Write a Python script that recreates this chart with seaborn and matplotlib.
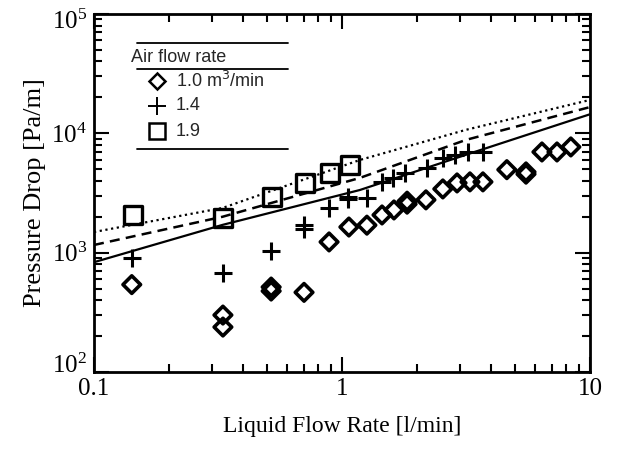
import numpy as np
import pandas as pd
import matplotlib
matplotlib.use("Agg")
import matplotlib.pyplot as plt
import matplotlib.transforms as mtrans
import seaborn as sns

# ---- data ----
q10_x = [0.142, 0.331, 0.331, 0.518, 0.518, 0.703, 0.887, 1.066, 1.26, 1.45, 1.62, 1.83, 1.83,
         2.18, 2.55, 2.91, 3.28, 3.70, 4.62, 5.52, 5.52, 6.40, 7.36, 8.37]
q10_y = [540, 300, 238, 515, 477, 465, 1230, 1640, 1700, 2070, 2280, 2550, 2700,
         2770, 3420, 3840, 3920, 3920, 4960, 4550, 4750, 6980, 6980, 7690]

q14_x = [0.142, 0.331, 0.518, 0.703, 0.703, 0.887, 1.06, 1.06, 1.26, 1.45, 1.61, 1.79,
         2.20, 2.55, 2.86, 3.22, 3.70]
q14_y = [900, 676, 1030, 1580, 1720, 2370, 2820, 2930, 2870, 3920, 4230, 4660,
         5130, 6220, 6600, 6990, 6990]

q19_x = [0.144, 0.331, 0.522, 0.708, 0.894, 1.076]
q19_y = [2070, 1950, 2930, 3840, 4660, 5430]

# model curves (read at several liquid flow rates)
curve_x = [0.1, 0.33, 1.18, 3.16, 10.0]
solid_y = [832, 1710, 3350, 6610, 14450]
dashed_y = [1160, 2000, 4230, 8810, 16600]
dotted_y = [1490, 2370, 5980, 10700, 19050]

legend_title = "Air flow rate"
legend_labels = ["1.0 m$^3$/min", "1.4", "1.9"]

# ---- style ----
sns.set_style("ticks")
plt.rcParams["font.family"] = ["Liberation Serif", "DejaVu Serif"]
plt.rcParams["mathtext.fontset"] = "custom"
plt.rcParams["mathtext.rm"] = "Liberation Serif"
plt.rcParams["mathtext.it"] = "Liberation Serif:italic"

fig = plt.figure(figsize=(6.17, 4.54), dpi=100)
ax = fig.add_axes([94 / 617, 1 - 372 / 454, (590 - 94) / 617, (372 - 14) / 454])

df10 = pd.DataFrame({"x": q10_x, "y": q10_y})
df14 = pd.DataFrame({"x": q14_x, "y": q14_y})
df19 = pd.DataFrame({"x": q19_x, "y": q19_y})
dfc = pd.DataFrame({"x": curve_x, "solid": solid_y, "dashed": dashed_y, "dotted": dotted_y})

sns.lineplot(data=dfc, x="x", y="solid", ax=ax, color="black", lw=1.6, linestyle="-")
sns.lineplot(data=dfc, x="x", y="dashed", ax=ax, color="black", lw=1.8, linestyle=(0, (4, 2.5)))
sns.lineplot(data=dfc, x="x", y="dotted", ax=ax, color="black", lw=1.6, linestyle=(0, (1, 1.6)))

sns.scatterplot(data=df10, x="x", y="y", ax=ax, marker="D", s=80, facecolor="none",
                edgecolor="black", linewidth=2.6, zorder=5)
sns.scatterplot(data=df14, x="x", y="y", ax=ax, marker="+", s=180, color="black",
                linewidth=2.2, zorder=5)
sns.scatterplot(data=df19, x="x", y="y", ax=ax, marker="s", s=170, facecolor="none",
                edgecolor="black", linewidth=2.4, zorder=5)

ax.set_xscale("log")
ax.set_yscale("log")
ax.set_xlim(0.1, 10)
ax.set_ylim(100, 100000)

ax.set_xticks([0.1, 1, 10])
ax.set_xticklabels(["0.1", "1", "10"])
ax.set_yticks([1e2, 1e3, 1e4, 1e5])
ax.set_yticklabels(["$10^{2}$", "$10^{3}$", "$10^{4}$", "$10^{5}$"])

ax.tick_params(which="both", direction="in", top=True, right=True, labelsize=18, width=1.5,
               color="black", labelcolor="black")
ax.tick_params(which="major", length=11, pad=4)
ax.tick_params(which="minor", length=6)
ax.tick_params(axis="y", pad=5)
for sp in ax.spines.values():
    sp.set_linewidth(2.0)
    sp.set_color("black")
    sp.set_visible(True)

# shift the extreme y labels inward, as in the reference
ylabs = ax.get_yticklabels()
ylabs[0].set_transform(ylabs[0].get_transform() + mtrans.ScaledTranslation(0, 9 / 100, fig.dpi_scale_trans))
ylabs[-1].set_transform(ylabs[-1].get_transform() + mtrans.ScaledTranslation(0, -5 / 100, fig.dpi_scale_trans))

ax.set_xlabel("Liquid Flow Rate [l/min]", fontsize=17, labelpad=12, color="black")
ax.set_ylabel("Pressure Drop [Pa/m]", fontsize=19, labelpad=4, color="black")

# ---- custom legend block ----
T = ax.transAxes
def ax_x(px):
    return (px - 94) / (590 - 94)
def ax_y(py):
    return (372 - py) / (372 - 14)

for py in (43, 69, 149):
    ax.plot([ax_x(137), ax_x(288)], [ax_y(py), ax_y(py)], transform=T, color="black", lw=1.3)
ax.text(ax_x(131), ax_y(58), legend_title, transform=T, fontsize=13,
        family=["Liberation Sans"], va="center", ha="left")
sym_y = [81, 106, 131]
ax.plot([ax_x(157)], [ax_y(sym_y[0])], transform=T, marker="D", ms=8, mfc="none", mec="black", mew=1.8)
ax.plot([ax_x(157)], [ax_y(sym_y[1])], transform=T, marker="+", ms=13, color="black", mew=1.4)
ax.plot([ax_x(157)], [ax_y(sym_y[2])], transform=T, marker="s", ms=11, mfc="none", mec="black", mew=1.8)
for lab, py in zip(legend_labels, sym_y):
    ax.text(ax_x(176), ax_y(py), lab, transform=T, fontsize=13,
            family=["Liberation Sans"], va="center", ha="left",
            math_fontfamily="dejavusans")

fig.savefig("out.png", dpi=100)
